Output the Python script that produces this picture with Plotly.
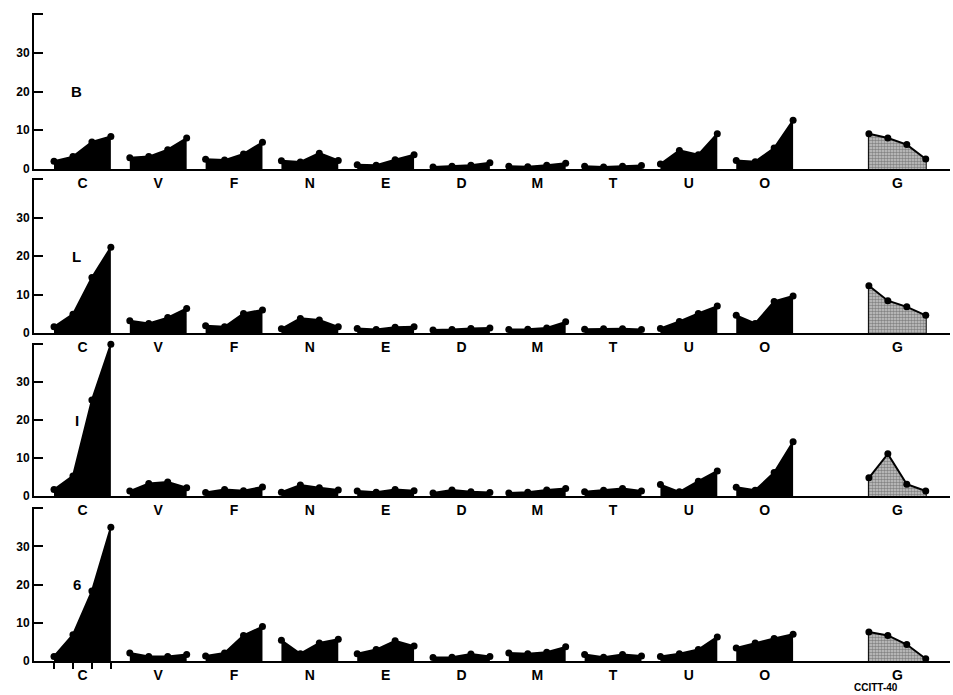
import plotly.graph_objects as go

categories = ["C", "V", "F", "N", "E", "D", "M", "T", "U", "O", "G"]
panel_names = ["B", "L", "I", "6"]
y_tick_values = [0, 10, 20, 30, 40]
y_tick_labels = ["0", "10", "20", "30", " "]

B_values = [
    [2.0, 3.2, 7.0, 8.4], [2.9, 3.2, 5.0, 8.0], [2.5, 2.3, 3.9, 6.9],
    [2.1, 1.8, 4.1, 2.2], [1.1, 1.0, 2.4, 3.7], [0.5, 0.7, 1.0, 1.6],
    [0.7, 0.6, 1.0, 1.5], [0.7, 0.5, 0.7, 0.9], [1.3, 4.8, 3.7, 9.1],
    [2.2, 1.9, 5.4, 12.6], [9.1, 8.0, 6.3, 2.6],
]
L_values = [
    [1.6, 4.9, 14.4, 22.3], [3.2, 2.5, 4.0, 6.4], [1.9, 1.6, 5.1, 6.0],
    [1.1, 3.8, 3.4, 1.6], [1.2, 0.9, 1.5, 1.6], [0.8, 0.9, 1.2, 1.3],
    [0.9, 1.0, 1.3, 2.9], [1.0, 1.1, 1.1, 0.9], [1.2, 3.0, 5.1, 7.0],
    [4.6, 2.5, 8.2, 9.6], [12.3, 8.4, 6.8, 4.6],
]
I_values = [
    [1.7, 5.3, 25.3, 40.0], [1.3, 3.3, 3.7, 2.2], [0.9, 1.7, 1.4, 2.4],
    [1.0, 2.9, 2.2, 1.6], [1.3, 1.0, 1.7, 1.4], [0.8, 1.6, 1.1, 0.9],
    [0.8, 1.0, 1.6, 2.0], [1.1, 1.5, 2.0, 1.3], [3.0, 1.1, 3.9, 6.6],
    [2.3, 1.5, 6.2, 14.3], [4.8, 11.1, 3.1, 1.3],
]
six_values = [
    [1.2, 6.9, 18.3, 35.0], [2.1, 1.2, 1.2, 1.7], [1.3, 2.1, 6.7, 9.0],
    [5.4, 1.9, 4.7, 5.7], [1.9, 3.0, 5.3, 3.9], [0.9, 1.0, 1.8, 1.2],
    [2.1, 1.9, 2.3, 3.7], [1.7, 1.0, 1.7, 1.3], [1.2, 1.9, 3.0, 6.3],
    [3.4, 4.7, 5.9, 7.0], [7.6, 6.7, 4.3, 0.6],
]
panels = [B_values, L_values, I_values, six_values]

# ---- layout geometry (pixels of the 953x695 page) ----
W, H = 953, 695
step = 0.25
starts = [i + (0.75 if c == "G" else 0.0) for i, c in enumerate(categories)]
centers = [s + 1.5 * step for s in starts]
xr = [-0.264, 11.82]
x_dom = [34 / W, 950 / W]
panel_px = [(13, 169), (178, 333), (343, 496), (507, 661)]

fig = go.Figure()
bold = dict(family="Liberation Sans", color="black", weight="bold")

for p, vals in enumerate(panels):
    ax = "" if p == 0 else str(p + 1)
    for g, (cat, v) in enumerate(zip(categories, vals)):
        xs = [starts[g] + k * step for k in range(len(v))]
        tr = dict(
            x=xs, y=v, mode="lines+markers", fill="tozeroy",
            line=dict(color="black", width=2),
            marker=dict(color="black", size=7),
            xaxis="x" + ax, yaxis="y" + ax, showlegend=False,
            cliponaxis=False, hoverinfo="skip",
        )
        if cat == "G":
            tr["fillcolor"] = "#a8a8a8"
            tr["fillpattern"] = dict(shape=".", size=3, solidity=0.55,
                                     fgcolor="#404040", bgcolor="#c8c8c8")
            # vertical edges of the stippled group
            for e in (0, len(v) - 1):
                fig.add_trace(go.Scatter(
                    x=[xs[e], xs[e]], y=[0, v[e]], mode="lines",
                    line=dict(color="black", width=2),
                    xaxis="x" + ax, yaxis="y" + ax,
                    showlegend=False, hoverinfo="skip"))
        else:
            tr["fillcolor"] = "black"
        fig.add_trace(go.Scatter(**tr))

    top, bot = panel_px[p]
    xa = dict(
        domain=x_dom, range=xr, anchor="y" + ax, showline=True,
        linewidth=2, linecolor="black", showgrid=False, zeroline=False,
        tickmode="array", tickvals=centers, ticktext=categories, ticks="",
        tickfont=dict(size=14, **bold), automargin=False,
    )
    if p == len(panels) - 1:
        xa["minor"] = dict(tickmode="array",
                           tickvals=[starts[0] + k * step for k in range(4)],
                           ticks="outside", ticklen=6, tickwidth=1.5,
                           tickcolor="black", showgrid=False)
    ya = dict(
        domain=[1 - bot / H, 1 - top / H], range=[0, 40.3], anchor="x" + ax,
        showline=True, linewidth=2, linecolor="black", showgrid=False,
        zeroline=False, tickmode="array", tickvals=y_tick_values,
        ticktext=y_tick_labels, ticks="inside", ticklen=9, tickwidth=2,
        tickcolor="black", tickfont=dict(size=12, **bold), automargin=False,
    )
    fig.update_layout({"xaxis" + ax: xa, "yaxis" + ax: ya})
    fig.add_annotation(
        x=0.3, y=20, xref="x" + ax, yref="y" + ax, text=panel_names[p],
        showarrow=False, font=dict(size=15, **bold))

fig.add_annotation(x=876 / W, y=0, xref="paper", yref="paper",
                   xanchor="center", yanchor="bottom",
                   text="CCITT-40", showarrow=False,
                   font=dict(size=10, **bold))

fig.update_layout(
    width=W, height=H, margin=dict(l=0, r=0, t=0, b=0, autoexpand=False),
    paper_bgcolor="white", plot_bgcolor="white",
)
fig.write_html("out.html")
